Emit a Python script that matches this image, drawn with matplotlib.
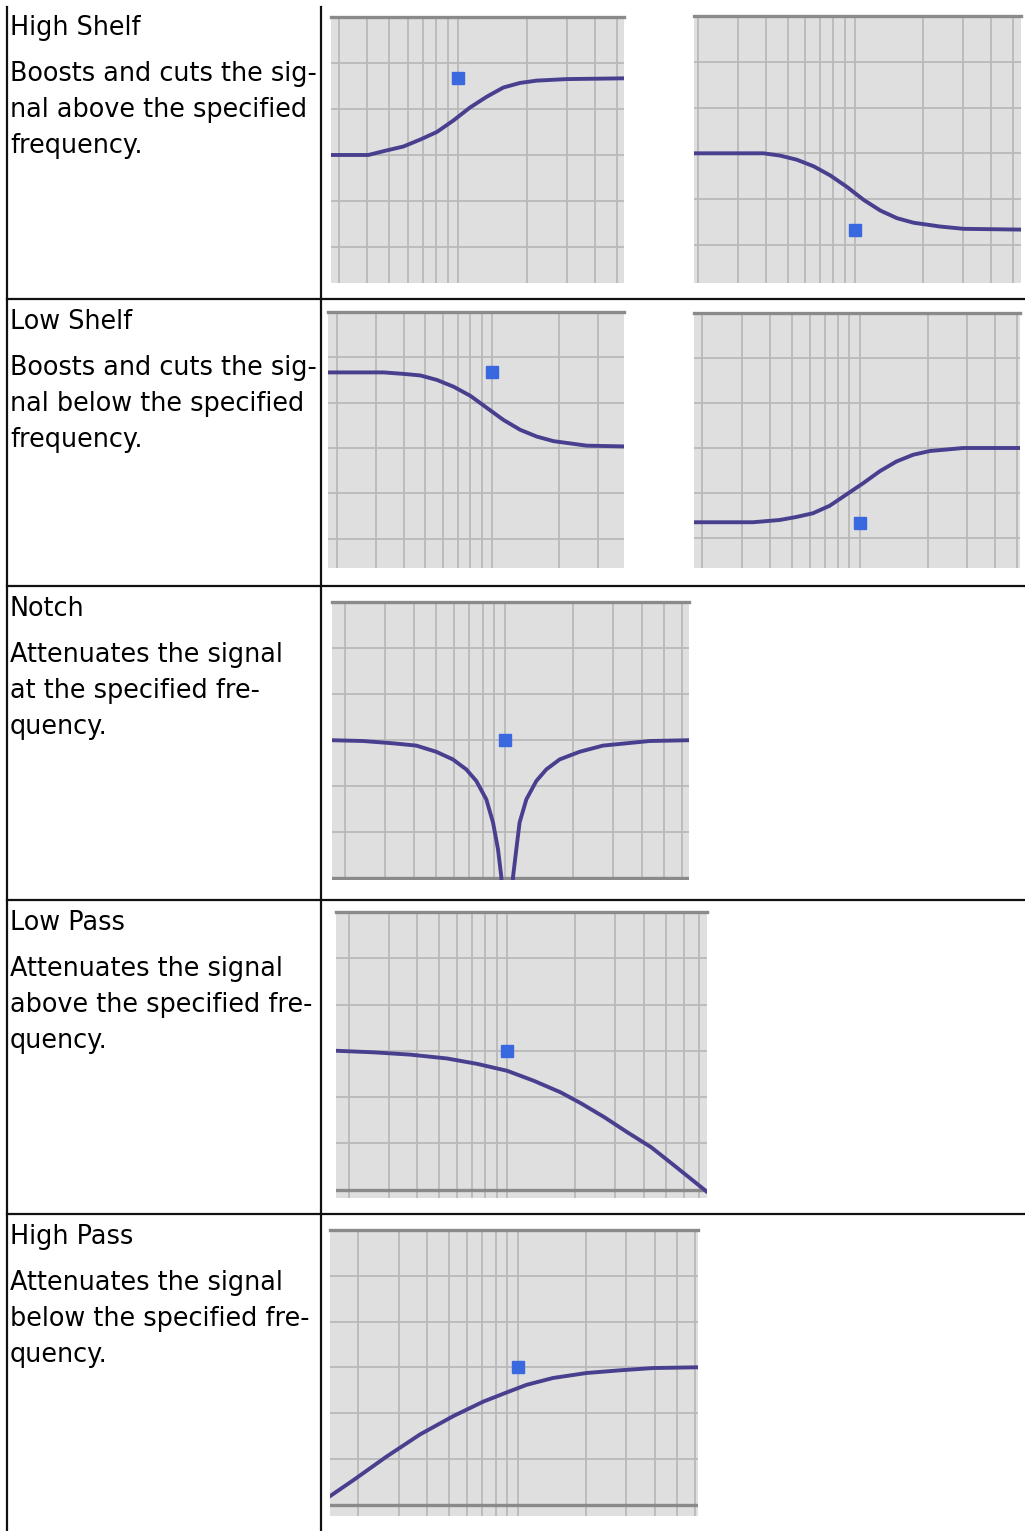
import matplotlib
matplotlib.use("Agg")
import matplotlib.pyplot as plt

# ---- table text ----
titles = ["High Shelf", "Low Shelf", "Notch", "Low Pass", "High Pass"]
descriptions = [
    ["Boosts and cuts the sig-", "nal above the specified", "frequency."],
    ["Boosts and cuts the sig-", "nal below the specified", "frequency."],
    ["Attenuates the signal", "at the specified fre-", "quency."],
    ["Attenuates the signal", "above the specified fre-", "quency."],
    ["Attenuates the signal", "below the specified fre-", "quency."],
]

# ---- curves (Hz, dB) ----
hs_boost_freq = [277, 404, 487, 575, 681, 807, 954, 1129, 1336, 1580, 1871, 2213, 2998, 5346]
hs_boost_gain = [0, 0, 0.6, 1.1, 2.0, 3.0, 4.5, 6.2, 7.6, 8.8, 9.4, 9.7, 9.9, 10.0]

hs_cut_freq = [192, 391, 464, 551, 653, 774, 918, 1089, 1292, 1531, 1816, 2387, 3030, 5450]
hs_cut_gain = [0, 0, -0.3, -0.85, -1.7, -2.9, -4.4, -6.1, -7.5, -8.5, -9.1, -9.6, -9.9, -10.0]

ls_boost_freq = [182, 325, 400, 475, 565, 672, 799, 949, 1128, 1341, 1595, 1894, 2253, 2679, 3944]
ls_boost_gain = [10.0, 10.0, 9.8, 9.6, 9.0, 8.1, 6.9, 5.3, 3.7, 2.4, 1.5, 0.9, 0.6, 0.3, 0.2]

ls_cut_freq = [184, 336, 441, 523, 620, 736, 873, 1035, 1227, 1455, 1726, 2047, 2428, 2879, 5140]
ls_cut_gain = [-9.9, -9.9, -9.6, -9.2, -8.7, -7.7, -6.2, -4.7, -3.1, -1.8, -0.9, -0.4, -0.2, 0, 0]

notch_freq = [175, 239, 324, 410, 501, 593, 679, 751, 831, 889, 935, 967, 1025,
              1088, 1125, 1163, 1245, 1377, 1523, 1742, 2133, 2698, 3420, 4325, 6430]
notch_gain = [0, -0.1, -0.4, -0.7, -1.5, -2.5, -3.8, -5.3, -7.7, -10.7, -14.2, -17.8, -40,
              -17.8, -14.2, -10.7, -7.7, -5.3, -3.8, -2.5, -1.5, -0.7, -0.4, -0.1, 0]

lp_freq = [176, 257, 373, 543, 737, 1000, 1312, 1722, 2110, 2675, 3396, 4305, 5459, 7169, 7600]
lp_gain = [0, -0.2, -0.5, -1.0, -1.7, -2.6, -3.9, -5.4, -6.8, -8.6, -10.6, -12.5, -14.9, -17.7, -18.3]

hp_freq = [150, 190, 266, 373, 522, 707, 895, 1095, 1432, 2008, 2810, 3933, 6195]
hp_gain = [-16.9, -14.8, -11.7, -8.8, -6.4, -4.5, -3.3, -2.3, -1.4, -0.75, -0.4, -0.1, 0]

# the blue handle (frequency, gain) of each filter
marker_freq = [1000, 1000, 1000, 1000, 1000, 1000, 1000]
marker_gain = [10, -10, 10, -10, 0, 0, 0]

grid_freqs = [200, 300, 400, 500, 600, 700, 800, 900,
              1000, 2000, 3000, 4000, 5000, 6000, 7000, 8000, 9000]
grid_gains = [-12, -6, 0, 6, 12]

W, H = 1025, 1531
fig = plt.figure(figsize=(W / 100, H / 100), dpi=100)
fig.patch.set_facecolor("white")

# table overlay in pixel coordinates
tab = fig.add_axes([0, 0, 1, 1])
tab.set_xlim(0, W)
tab.set_ylim(H, 0)
tab.axis("off")

row_tops = [5, 299, 586, 900, 1214]
line_kw = dict(color="#111111", lw=1.6)
tab.plot([7, 7], [7, H], **line_kw)
tab.plot([321, 321], [7, H], **line_kw)
for y in row_tops[1:]:
    tab.plot([7, W], [y, y], **line_kw)

for top, title, desc in zip(row_tops, titles, descriptions):
    tab.text(10, top + 30, title, fontsize=18.4, family="DejaVu Sans",
             va="baseline", ha="left", color="black")
    for i, line in enumerate(desc):
        tab.text(10, top + 76 + 36 * i, line, fontsize=18.4, family="DejaVu Sans",
                 va="baseline", ha="left", color="black")


def eq_panel(px, freq, gain, mf, mg, xlim, ylim, bottom_line=False):
    x0, y0, x1, y1 = px
    ax = fig.add_axes([x0 / W, 1 - y1 / H, (x1 - x0) / W, (y1 - y0) / H])
    ax.set_facecolor("#dfdfdf")
    ax.set_xscale("log")
    ax.set_xlim(xlim)
    ax.set_ylim(ylim)
    for f in grid_freqs:
        if xlim[0] < f < xlim[1]:
            ax.axvline(f, color="#b9b9b9", lw=1.3, zorder=1)
    for g in grid_gains:
        ax.axhline(g, color="#b9b9b9", lw=1.3, zorder=1)
    ax.axhline(18, color="#8a8a8a", lw=2.4, zorder=2, clip_on=False)
    if bottom_line:
        ax.axhline(-18, color="#8a8a8a", lw=2.4, zorder=2)
    ax.plot(freq, gain, color="#48408f", lw=2.8, zorder=3,
            solid_joinstyle="round")
    ax.plot([mf], [mg], "s", color="#3a68df", ms=9, mec="#3a68df", zorder=4)
    for s in ax.spines.values():
        s.set_visible(False)
    ax.set_xticks([])
    ax.set_yticks([])
    ax.minorticks_off()
    return ax


eq_panel((331, 17, 624, 283), hs_boost_freq, hs_boost_gain,
         marker_freq[0], marker_gain[0], (277, 5346), (-16.7, 18))
eq_panel((694, 16, 1021, 283), hs_cut_freq, hs_cut_gain,
         marker_freq[1], marker_gain[1], (192, 5450), (-17.0, 18))
eq_panel((328, 312, 624, 568), ls_boost_freq, ls_boost_gain,
         marker_freq[2], marker_gain[2], (182, 3944), (-15.9, 18))
eq_panel((694, 313, 1020, 568), ls_cut_freq, ls_cut_gain,
         marker_freq[3], marker_gain[3], (184, 5140), (-16.0, 18))
eq_panel((332, 602, 689, 880), notch_freq, notch_gain,
         marker_freq[4], marker_gain[4], (175, 6430), (-18.2, 18), bottom_line=True)
eq_panel((336, 912, 707, 1198), lp_freq, lp_gain,
         marker_freq[5], marker_gain[5], (176, 7600), (-19.1, 18), bottom_line=True)
eq_panel((330, 1230, 698, 1516), hp_freq, hp_gain,
         marker_freq[6], marker_gain[6], (150, 6195), (-19.5, 18), bottom_line=True)

fig.savefig("out.png", dpi=100)
